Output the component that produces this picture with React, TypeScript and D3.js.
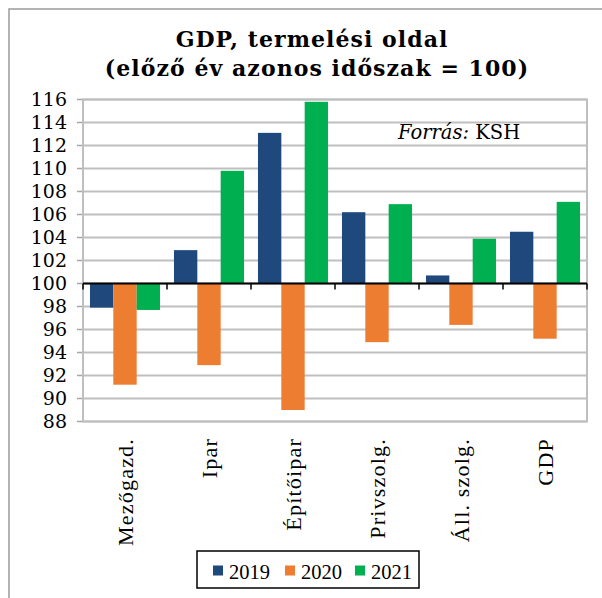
import React from "react";
import * as d3 from "d3";

const categories = ["Mezőgazd.", "Ipar", "Építőipar", "Privszolg.", "Áll. szolg.", "GDP"];
const seriesNames = ["2019", "2020", "2021"];
const values2019 = [97.9, 102.9, 113.1, 106.2, 100.7, 104.5];
const values2020 = [91.2, 92.9, 89.0, 94.9, 96.4, 95.2];
const values2021 = [97.7, 109.8, 115.8, 106.9, 103.9, 107.1];
const seriesColors = ["#1f497d", "#ed7d31", "#00b050"];
const yTicks = [88, 90, 92, 94, 96, 98, 100, 102, 104, 106, 108, 110, 112, 114, 116];

const W = 602;
const H = 598;
const plot = { left: 83, right: 587, top: 99.5, bottom: 421.5 };

export default function App() {
  const series = [values2019, values2020, values2021];
  const x = d3.scaleBand<string>().domain(categories).range([plot.left, plot.right]).paddingInner(0).paddingOuter(0);
  const bw = x.bandwidth();
  const inner = d3.scaleBand<string>().domain(seriesNames).range([bw * 0.083, bw * 0.917]).padding(0);
  const y = d3.scaleLinear().domain([88, 116]).range([plot.bottom, plot.top]);
  const y0 = y(100);
  const serif = "'DejaVu Serif', serif";
  const times = "'Liberation Serif', 'Times New Roman', serif";

  return (
    <>
      <style>{`body{margin:0}`}</style>
      <svg width={W} height={H} style={{ display: "block", background: "#fff" }}>
        <rect x={9} y={9} width={W + 20} height={H + 20} fill="#fff" stroke="#9a9a9a" strokeWidth={1.5} />
        <text x={312} y={47} textAnchor="middle" fontFamily={serif} fontWeight="bold" fontSize={22} letterSpacing={1.05} fill="#000">
          GDP, termelési oldal
        </text>
        <text x={317} y={76} textAnchor="middle" fontFamily={serif} fontWeight="bold" fontSize={22} letterSpacing={1.05} fill="#000">
          (előző év azonos időszak = 100)
        </text>
        {/* gridlines */}
        {yTicks.map((t) => (
          <g key={t}>
            <line x1={plot.left} x2={plot.right} y1={y(t)} y2={y(t)} stroke="#bfbfbf" strokeWidth={2} />
            <line x1={plot.left - 6} x2={plot.left} y1={y(t)} y2={y(t)} stroke="#a6a6a6" strokeWidth={1.5} />
            <text x={67} y={y(t)} dy="0.36em" textAnchor="end" fontFamily={serif} fontSize={19} fill="#000">
              {t}
            </text>
          </g>
        ))}
        <rect x={plot.left} y={plot.top} width={plot.right - plot.left} height={plot.bottom - plot.top} fill="none" stroke="#bfbfbf" strokeWidth={2} />
        <text x={398} y={139} fontFamily={serif} fontSize={19.5} fill="#000">
          <tspan fontStyle="italic">Forrás:</tspan> KSH
        </text>
        {/* bars */}
        {categories.map((c, i) => (
          <g key={c}>
            {series.map((vals, s) => {
              const v = vals[i];
              const bx = (x(c) as number) + (inner(seriesNames[s]) as number);
              const top = Math.min(y(v), y0);
              const h = Math.abs(y(v) - y0);
              return <rect key={s} x={bx} y={top} width={inner.bandwidth()} height={h} fill={seriesColors[s]} />;
            })}
          </g>
        ))}
        {/* zero axis */}
        <line x1={plot.left} x2={plot.right} y1={y0} y2={y0} stroke="#000" strokeWidth={2} />
        {d3.range(categories.length + 1).map((k) => {
          const tx = plot.left + k * bw;
          return <line key={k} x1={tx} x2={tx} y1={y0} y2={y0 + 6} stroke="#000" strokeWidth={1.5} />;
        })}
        {/* x labels */}
        {categories.map((c) => {
          const cx = (x(c) as number) + bw / 2;
          return (
            <text
              key={c}
              transform={`translate(${cx + 8},438) rotate(-90)`}
              textAnchor="end"
              fontFamily={times}
              fontSize={22}
              letterSpacing={1.2}
              fill="#000"
            >
              {c}
            </text>
          );
        })}
        {/* legend */}
        <rect x={197} y={551} width={222} height={37} fill="#fff" stroke="#000" strokeWidth={1.5} />
        {seriesNames.map((n, s) => {
          const lx = [213, 285, 355][s];
          return (
            <g key={n}>
              <rect x={lx} y={565.5} width={10} height={10} fill={seriesColors[s]} />
              <text x={lx + 16} y={579} fontFamily={times} fontSize={20.5} fill="#000">
                {n}
              </text>
            </g>
          );
        })}
      </svg>
    </>
  );
}
